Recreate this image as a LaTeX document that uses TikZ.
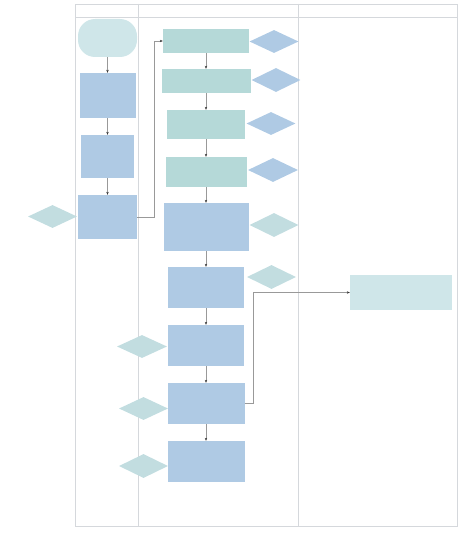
\documentclass[tikz,border=0pt]{standalone}
\usetikzlibrary{shapes.geometric}
\usetikzlibrary{arrows.meta}
\definecolor{laneblue}{HTML}{AFCAE4}
\definecolor{laneteal}{HTML}{B5D9D8}
\definecolor{lanecyan}{HTML}{CFE6E9}
\definecolor{lanemint}{HTML}{C2DDE0}
\definecolor{laneline}{HTML}{D5D8DC}
\begin{document}
\begin{tikzpicture}[x=1pt,y=-1pt, >={Stealth[length=3pt,width=2.4pt,black!80]}]
			\tikzstyle{box}=[rectangle, inner sep=0pt, draw=none]
			\tikzstyle{choice}=[diamond, inner sep=0pt, draw=none, minimum width=49pt, minimum height=23pt]
			\tikzstyle{flow}=[draw=black!40, line width=0.5pt]
			\useasboundingbox (0,0) rectangle (474,535);
			
			% Draw lanes
			\draw[laneline, line width=0.8pt] (75,4) rectangle (457,526);
			\draw[laneline, line width=0.8pt] (75,17) -- (457,17);
			\draw[laneline, line width=0.8pt] (138,4) -- (138,526);
			\draw[laneline, line width=0.8pt] (298,4) -- (298,526);
			
			% Draw left lane
			\node[box,fill=lanecyan,minimum width=59pt,minimum height=38pt,rounded corners=17pt] (start) at (107.5,38) {};
			\node[box,fill=laneblue,minimum width=56pt,minimum height=45pt] (left1) at (107.5,95.5) {};
			\node[box,fill=laneblue,minimum width=53pt,minimum height=43pt] (left2) at (107.5,156.5) {};
			\node[box,fill=laneblue,minimum width=59pt,minimum height=44pt] (left3) at (107.5,217) {};
			\node[choice,fill=lanemint] (dleft) at (52.5,216.5) {};
			
			% Draw middle lane
			\node[box,fill=laneteal,minimum width=86pt,minimum height=24pt] (mid1) at (206,41) {};
			\node[box,fill=laneteal,minimum width=89pt,minimum height=24pt] (mid2) at (206,81) {};
			\node[box,fill=laneteal,minimum width=78pt,minimum height=29pt] (mid3) at (206,124.5) {};
			\node[box,fill=laneteal,minimum width=81pt,minimum height=30pt] (mid4) at (206,172) {};
			\node[box,fill=laneblue,minimum width=85pt,minimum height=48pt] (mid5) at (206,227) {};
			\node[box,fill=laneblue,minimum width=76pt,minimum height=41pt] (mid6) at (206,287.5) {};
			\node[box,fill=laneblue,minimum width=76pt,minimum height=41pt] (mid7) at (206,345.5) {};
			\node[box,fill=laneblue,minimum width=77pt,minimum height=41pt] (mid8) at (206,403.5) {};
			\node[box,fill=laneblue,minimum width=77pt,minimum height=41pt] (mid9) at (206,461.5) {};
			
			% Draw decisions
			\node[choice,fill=laneblue] (dmid1) at (274,41.5) {};
			\node[choice,fill=laneblue,minimum height=24pt] (dmid2) at (276,80) {};
			\node[choice,fill=laneblue] (dmid3) at (271,123.5) {};
			\node[choice,fill=laneblue,minimum width=50pt,minimum height=24pt] (dmid4) at (273,170) {};
			\node[choice,fill=lanemint,minimum height=24pt] (dmid5) at (274,225) {};
			\node[choice,fill=lanemint,minimum height=24pt] (dmid6) at (271.5,277) {};
			\node[choice,fill=lanemint,minimum width=50pt] (dmid7) at (142,346.5) {};
			\node[choice,fill=lanemint] (dmid8) at (143.5,408.5) {};
			\node[choice,fill=lanemint,minimum height=24pt] (dmid9) at (143.5,466) {};
			
			% Draw right lane
			\node[box,fill=lanecyan,minimum width=102pt,minimum height=35pt] (right1) at (401,292.5) {};
			
			% Draw arrows
			\path[->, flow] (start) edge (left1);
			\path[->, flow] (left1) edge (left2);
			\path[->, flow] (left2) edge (left3);
			\draw[->, flow] (left3.east) -- ++(17,0) |- (mid1.west);
			\path[->, flow] (mid1) edge (mid2);
			\path[->, flow] (mid2) edge (mid3);
			\path[->, flow] (mid3) edge (mid4);
			\path[->, flow] (mid4) edge (mid5);
			\path[->, flow] (mid5) edge (mid6);
			\path[->, flow] (mid6) edge (mid7);
			\path[->, flow] (mid7) edge (mid8);
			\path[->, flow] (mid8) edge (mid9);
			\draw[->, flow] (mid8.east) -- ++(8.5,0) |- (right1.west);
			
		\end{tikzpicture}
\end{document}
